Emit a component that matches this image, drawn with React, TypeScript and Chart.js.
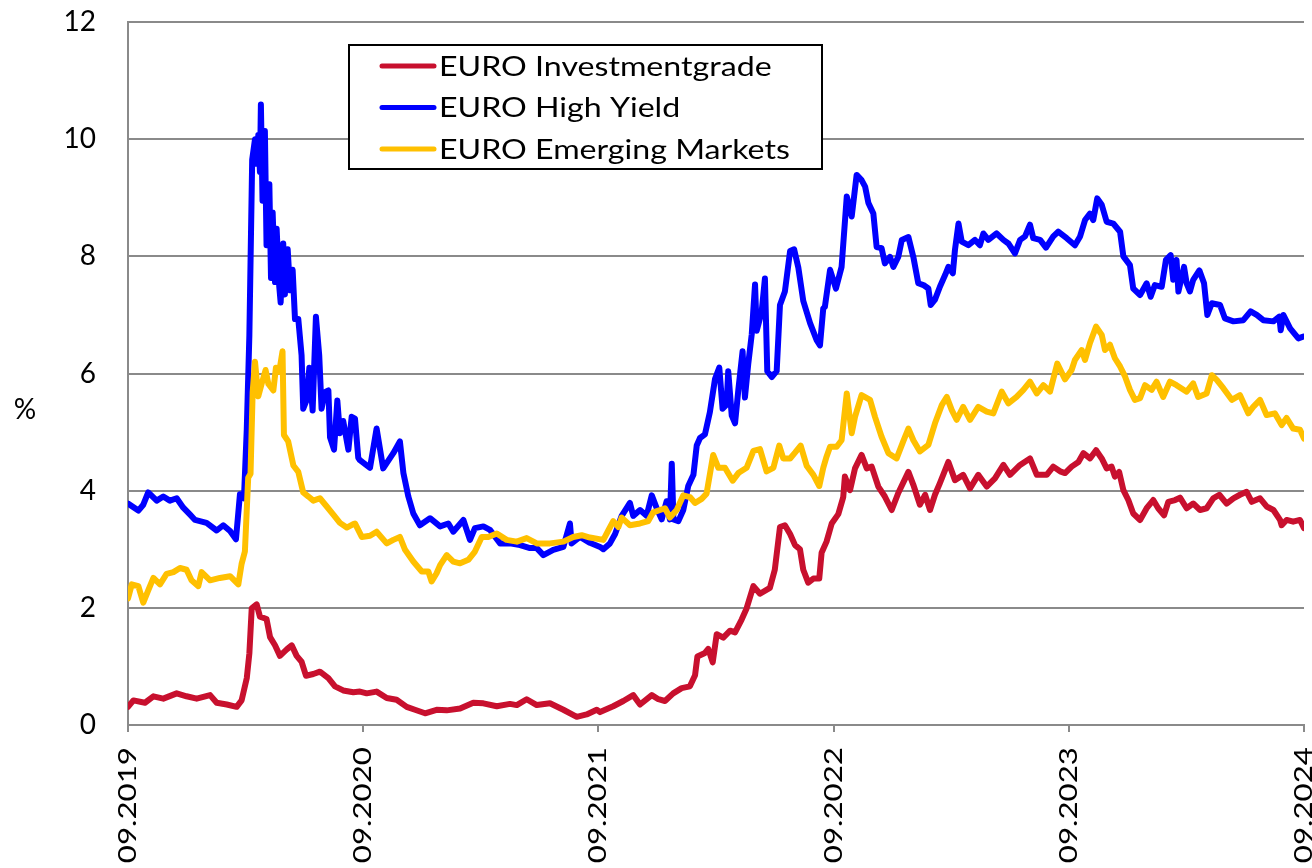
import React, { useEffect, useRef } from "react";
import { Chart, registerables } from "chart.js";

Chart.register(...registerables);

// x = years since 09.2019
const xTickLabels = ["09.2019", "09.2020", "09.2021", "09.2022", "09.2023", "09.2024"];
const yTickValues = [0, 2, 4, 6, 8, 10, 12];

const seriesNames = ["EURO Investmentgrade", "EURO High Yield", "EURO Emerging Markets"];
const seriesColors = ["#C8102E", "#0000FF", "#FFC000"];

const igT = [0, 0.023, 0.072, 0.108, 0.15, 0.207, 0.249, 0.292, 0.349, 0.377, 0.42, 0.462, 0.483, 0.505, 0.516, 0.526, 0.547, 0.561, 0.589, 0.604, 0.625, 0.646, 0.675, 0.696, 0.717, 0.738, 0.757, 0.788, 0.816, 0.852, 0.88, 0.915, 0.958, 0.986, 1.015, 1.057, 1.1, 1.142, 1.185, 1.22, 1.263, 1.312, 1.355, 1.412, 1.468, 1.511, 1.568, 1.624, 1.653, 1.695, 1.738, 1.794, 1.851, 1.908, 1.95, 1.993, 2.007, 2.063, 2.106, 2.148, 2.177, 2.227, 2.255, 2.283, 2.318, 2.354, 2.389, 2.411, 2.421, 2.453, 2.467, 2.486, 2.503, 2.531, 2.56, 2.581, 2.609, 2.63, 2.659, 2.687, 2.729, 2.75, 2.772, 2.793, 2.815, 2.836, 2.857, 2.871, 2.892, 2.914, 2.939, 2.949, 2.97, 2.992, 3.02, 3.041, 3.048, 3.07, 3.091, 3.119, 3.141, 3.162, 3.19, 3.218, 3.247, 3.275, 3.318, 3.339, 3.367, 3.389, 3.41, 3.431, 3.452, 3.488, 3.516, 3.551, 3.58, 3.615, 3.651, 3.686, 3.722, 3.75, 3.793, 3.835, 3.864, 3.906, 3.934, 3.963, 3.984, 4.012, 4.041, 4.062, 4.09, 4.116, 4.14, 4.161, 4.182, 4.196, 4.214, 4.232, 4.253, 4.274, 4.303, 4.331, 4.359, 4.38, 4.405, 4.423, 4.452, 4.473, 4.501, 4.529, 4.558, 4.586, 4.614, 4.64, 4.671, 4.7, 4.728, 4.756, 4.778, 4.813, 4.841, 4.87, 4.898, 4.905, 4.926, 4.954, 4.983, 5.0];
const igV = [0.31, 0.42, 0.38, 0.49, 0.45, 0.54, 0.49, 0.45, 0.51, 0.38, 0.35, 0.31, 0.42, 0.8, 1.22, 1.99, 2.06, 1.85, 1.81, 1.5, 1.36, 1.18, 1.29, 1.36, 1.18, 1.08, 0.84, 0.87, 0.91, 0.8, 0.66, 0.59, 0.56, 0.57, 0.54, 0.57, 0.46, 0.43, 0.31, 0.26, 0.2, 0.26, 0.25, 0.28, 0.38, 0.37, 0.32, 0.36, 0.34, 0.44, 0.34, 0.37, 0.26, 0.14, 0.18, 0.26, 0.22, 0.32, 0.41, 0.51, 0.35, 0.51, 0.44, 0.41, 0.54, 0.63, 0.66, 0.85, 1.17, 1.23, 1.3, 1.07, 1.55, 1.49, 1.61, 1.58, 1.8, 1.99, 2.37, 2.24, 2.34, 2.65, 3.38, 3.41, 3.26, 3.07, 3.0, 2.65, 2.43, 2.5, 2.5, 2.94, 3.13, 3.44, 3.6, 3.89, 4.24, 4.01, 4.38, 4.61, 4.38, 4.41, 4.07, 3.9, 3.67, 3.96, 4.32, 4.1, 3.76, 3.93, 3.67, 3.93, 4.13, 4.49, 4.18, 4.27, 4.04, 4.27, 4.07, 4.21, 4.44, 4.27, 4.44, 4.55, 4.27, 4.27, 4.41, 4.33, 4.3, 4.41, 4.49, 4.64, 4.55, 4.69, 4.55, 4.38, 4.41, 4.24, 4.32, 4.01, 3.84, 3.61, 3.5, 3.7, 3.84, 3.7, 3.58, 3.81, 3.84, 3.88, 3.7, 3.78, 3.67, 3.7, 3.87, 3.93, 3.78, 3.87, 3.93, 3.98, 3.81, 3.87, 3.73, 3.67, 3.5, 3.41, 3.5, 3.47, 3.5, 3.36];

const hyT = [0, 0.044, 0.065, 0.086, 0.122, 0.15, 0.178, 0.207, 0.235, 0.264, 0.285, 0.334, 0.377, 0.405, 0.434, 0.459, 0.476, 0.493, 0.505, 0.516, 0.528, 0.54, 0.547, 0.554, 0.561, 0.565, 0.572, 0.582, 0.589, 0.601, 0.608, 0.615, 0.625, 0.632, 0.643, 0.649, 0.66, 0.667, 0.679, 0.689, 0.7, 0.71, 0.724, 0.738, 0.745, 0.759, 0.771, 0.785, 0.799, 0.813, 0.823, 0.837, 0.852, 0.859, 0.876, 0.89, 0.901, 0.915, 0.937, 0.951, 0.965, 0.979, 0.986, 1.029, 1.057, 1.085, 1.128, 1.156, 1.171, 1.192, 1.213, 1.241, 1.284, 1.327, 1.362, 1.383, 1.426, 1.454, 1.475, 1.511, 1.539, 1.582, 1.624, 1.667, 1.709, 1.738, 1.766, 1.808, 1.851, 1.879, 1.886, 1.922, 1.964, 2.007, 2.021, 2.049, 2.071, 2.099, 2.134, 2.148, 2.177, 2.205, 2.227, 2.248, 2.269, 2.29, 2.304, 2.312, 2.319, 2.34, 2.361, 2.382, 2.404, 2.418, 2.432, 2.453, 2.474, 2.496, 2.514, 2.528, 2.545, 2.552, 2.567, 2.581, 2.595, 2.613, 2.623, 2.637, 2.652, 2.666, 2.673, 2.694, 2.708, 2.718, 2.737, 2.758, 2.772, 2.793, 2.815, 2.832, 2.85, 2.871, 2.9, 2.928, 2.942, 2.956, 2.963, 2.985, 3.01, 3.034, 3.056, 3.077, 3.098, 3.119, 3.134, 3.148, 3.169, 3.183, 3.204, 3.218, 3.24, 3.254, 3.275, 3.29, 3.318, 3.339, 3.36, 3.382, 3.403, 3.413, 3.431, 3.452, 3.474, 3.488, 3.507, 3.516, 3.531, 3.545, 3.573, 3.601, 3.622, 3.637, 3.658, 3.693, 3.722, 3.743, 3.771, 3.793, 3.814, 3.835, 3.849, 3.878, 3.903, 3.934, 3.955, 3.991, 4.026, 4.048, 4.069, 4.09, 4.104, 4.121, 4.14, 4.161, 4.189, 4.218, 4.232, 4.26, 4.274, 4.303, 4.331, 4.348, 4.366, 4.395, 4.413, 4.433, 4.444, 4.458, 4.466, 4.49, 4.501, 4.515, 4.529, 4.555, 4.575, 4.589, 4.608, 4.643, 4.664, 4.7, 4.742, 4.773, 4.799, 4.827, 4.87, 4.895, 4.901, 4.912, 4.941, 4.976, 4.997];
const hyV = [3.78, 3.66, 3.76, 3.97, 3.83, 3.9, 3.83, 3.87, 3.71, 3.59, 3.5, 3.45, 3.32, 3.41, 3.31, 3.17, 3.94, 3.87, 5.05, 6.65, 9.65, 10.0, 9.58, 10.07, 9.44, 10.59, 8.95, 10.14, 8.19, 9.23, 7.63, 8.75, 7.56, 8.47, 7.49, 7.21, 8.22, 7.35, 8.12, 7.42, 7.77, 6.93, 6.93, 6.31, 5.4, 5.54, 6.1, 5.37, 6.97, 6.31, 5.4, 5.68, 5.71, 4.91, 4.7, 5.54, 4.98, 5.19, 4.7, 5.26, 5.23, 4.56, 4.52, 4.39, 5.06, 4.38, 4.64, 4.84, 4.3, 3.9, 3.61, 3.41, 3.53, 3.39, 3.44, 3.3, 3.5, 3.16, 3.36, 3.39, 3.33, 3.1, 3.1, 3.07, 3.02, 3.02, 2.9, 2.99, 3.04, 3.44, 3.1, 3.21, 3.11, 3.04, 3.0, 3.1, 3.26, 3.57, 3.79, 3.57, 3.67, 3.57, 3.92, 3.7, 3.51, 3.82, 3.51, 4.46, 3.51, 3.48, 3.67, 4.08, 4.27, 4.77, 4.9, 4.96, 5.34, 5.91, 6.1, 5.4, 5.47, 6.04, 5.28, 5.15, 5.72, 6.38, 5.59, 6.16, 6.67, 7.52, 6.73, 7.05, 7.62, 6.04, 5.94, 6.04, 7.17, 7.4, 8.09, 8.12, 7.81, 7.24, 6.86, 6.57, 6.48, 7.11, 7.14, 7.77, 7.45, 7.82, 9.02, 8.68, 9.39, 9.3, 9.19, 8.91, 8.73, 8.16, 8.14, 7.88, 7.99, 7.82, 7.99, 8.28, 8.33, 7.99, 7.54, 7.51, 7.45, 7.17, 7.26, 7.48, 7.68, 7.82, 7.71, 8.11, 8.56, 8.25, 8.19, 8.28, 8.19, 8.39, 8.28, 8.39, 8.28, 8.22, 8.05, 8.28, 8.34, 8.54, 8.31, 8.28, 8.15, 8.34, 8.42, 8.31, 8.19, 8.34, 8.62, 8.73, 8.62, 8.99, 8.88, 8.59, 8.56, 8.42, 8.0, 7.85, 7.45, 7.34, 7.54, 7.31, 7.51, 7.48, 7.94, 8.02, 7.6, 7.94, 7.4, 7.82, 7.54, 7.4, 7.6, 7.76, 7.54, 7.0, 7.2, 7.17, 6.94, 6.89, 6.91, 7.06, 7.0, 6.91, 6.89, 6.97, 6.74, 7.0, 6.77, 6.6, 6.63];

const emT = [0, 0.016, 0.044, 0.065, 0.086, 0.108, 0.136, 0.164, 0.193, 0.221, 0.249, 0.27, 0.299, 0.313, 0.349, 0.391, 0.434, 0.469, 0.483, 0.497, 0.511, 0.521, 0.53, 0.54, 0.554, 0.568, 0.585, 0.597, 0.618, 0.629, 0.643, 0.657, 0.663, 0.681, 0.703, 0.724, 0.745, 0.767, 0.788, 0.816, 0.845, 0.873, 0.901, 0.93, 0.958, 0.965, 0.994, 1.029, 1.057, 1.1, 1.128, 1.156, 1.178, 1.213, 1.249, 1.277, 1.291, 1.312, 1.327, 1.355, 1.383, 1.412, 1.447, 1.475, 1.504, 1.532, 1.568, 1.61, 1.653, 1.695, 1.738, 1.794, 1.851, 1.893, 1.929, 1.964, 2.021, 2.042, 2.063, 2.085, 2.099, 2.134, 2.177, 2.212, 2.233, 2.262, 2.283, 2.304, 2.333, 2.361, 2.389, 2.411, 2.439, 2.46, 2.488, 2.51, 2.538, 2.571, 2.595, 2.63, 2.659, 2.687, 2.715, 2.744, 2.769, 2.786, 2.815, 2.836, 2.86, 2.886, 2.914, 2.939, 2.956, 2.97, 2.985, 3.013, 3.034, 3.056, 3.077, 3.091, 3.119, 3.155, 3.176, 3.204, 3.233, 3.268, 3.296, 3.318, 3.339, 3.367, 3.403, 3.431, 3.46, 3.481, 3.502, 3.523, 3.551, 3.58, 3.615, 3.651, 3.679, 3.715, 3.743, 3.778, 3.807, 3.835, 3.864, 3.892, 3.92, 3.951, 3.984, 4.012, 4.026, 4.055, 4.069, 4.09, 4.116, 4.14, 4.154, 4.175, 4.196, 4.218, 4.239, 4.26, 4.281, 4.303, 4.324, 4.352, 4.373, 4.401, 4.43, 4.458, 4.501, 4.529, 4.55, 4.586, 4.608, 4.629, 4.657, 4.693, 4.728, 4.763, 4.784, 4.813, 4.841, 4.876, 4.905, 4.926, 4.954, 4.983, 5.0];
const emV = [2.16, 2.4, 2.37, 2.09, 2.3, 2.51, 2.4, 2.58, 2.61, 2.68, 2.65, 2.47, 2.37, 2.61, 2.47, 2.51, 2.54, 2.4, 2.75, 2.96, 4.22, 4.29, 5.68, 6.2, 5.61, 5.82, 6.06, 5.82, 5.71, 6.1, 6.03, 6.38, 4.95, 4.84, 4.43, 4.32, 3.97, 3.9, 3.83, 3.87, 3.73, 3.59, 3.45, 3.37, 3.43, 3.44, 3.21, 3.23, 3.3, 3.1, 3.16, 3.21, 2.99, 2.79, 2.62, 2.62, 2.45, 2.59, 2.73, 2.9, 2.79, 2.76, 2.82, 2.96, 3.21, 3.21, 3.27, 3.16, 3.13, 3.19, 3.1, 3.1, 3.13, 3.21, 3.24, 3.2, 3.16, 3.32, 3.48, 3.38, 3.54, 3.41, 3.44, 3.48, 3.63, 3.67, 3.7, 3.54, 3.67, 3.92, 3.89, 3.79, 3.86, 3.95, 4.61, 4.39, 4.39, 4.17, 4.3, 4.39, 4.68, 4.71, 4.33, 4.39, 4.77, 4.55, 4.55, 4.65, 4.77, 4.42, 4.27, 4.08, 4.39, 4.58, 4.75, 4.75, 4.86, 5.66, 4.98, 5.26, 5.63, 5.55, 5.26, 4.92, 4.64, 4.55, 4.84, 5.06, 4.86, 4.67, 4.78, 5.15, 5.46, 5.6, 5.38, 5.21, 5.43, 5.21, 5.43, 5.35, 5.32, 5.69, 5.49, 5.6, 5.72, 5.86, 5.66, 5.8, 5.69, 6.17, 5.9, 6.06, 6.23, 6.4, 6.23, 6.52, 6.8, 6.66, 6.4, 6.49, 6.26, 6.12, 5.95, 5.72, 5.55, 5.58, 5.8, 5.72, 5.86, 5.6, 5.86, 5.8, 5.69, 5.83, 5.6, 5.66, 5.97, 5.89, 5.75, 5.55, 5.63, 5.32, 5.43, 5.55, 5.29, 5.32, 5.12, 5.24, 5.06, 5.04, 4.89];

const FONT = "Lato, 'Noto Sans', sans-serif";

function toPoints(ts: number[], vs: number[]) {
  return ts.map((t, i) => ({ x: t, y: vs[i] }));
}

const overlayPlugin = {
  id: "overlay",
  afterDraw(chart: any) {
    const { ctx, chartArea, scales } = chart;
    const xs = scales.x;
    ctx.save();
    // rotated x tick labels (stretched along text direction)
    ctx.fillStyle = "#000";
    ctx.font = `25px ${FONT}`;
    ctx.textAlign = "right";
    ctx.textBaseline = "middle";
    xTickLabels.forEach((lab, i) => {
      const px = xs.getPixelForValue(i);
      ctx.save();
      ctx.translate(px, chartArea.bottom + 22);
      ctx.rotate(-Math.PI / 2);
      ctx.scale(1.25, 1);
      ctx.fillText(lab, 0, 0);
      ctx.restore();
    });
    // y axis unit label
    ctx.font = `28px ${FONT}`;
    ctx.textAlign = "center";
    ctx.fillText("%", 25, 410);
    // legend box
    const bx = 349, by = 45, bw = 473, bh = 124;
    ctx.fillStyle = "#fff";
    ctx.fillRect(bx, by, bw, bh);
    ctx.strokeStyle = "#000";
    ctx.lineWidth = 2;
    ctx.strokeRect(bx, by, bw, bh);
    const rows = [66, 107.5, 149];
    ctx.font = `27px ${FONT}`;
    ctx.textAlign = "left";
    ctx.textBaseline = "middle";
    seriesNames.forEach((name, i) => {
      ctx.strokeStyle = seriesColors[i];
      ctx.lineWidth = 5;
      ctx.lineCap = "round";
      ctx.beginPath();
      ctx.moveTo(382, rows[i]);
      ctx.lineTo(434, rows[i]);
      ctx.stroke();
      ctx.fillStyle = "#000";
      ctx.save();
      ctx.translate(439, rows[i] + 1);
      ctx.scale(1.19, 1);
      ctx.fillText(name, 0, 0);
      ctx.restore();
    });
    ctx.restore();
  },
};

export default function App() {
  const ref = useRef<HTMLCanvasElement | null>(null);
  useEffect(() => {
    if (!ref.current) return;
    const series = [toPoints(igT, igV), toPoints(hyT, hyV), toPoints(emT, emV)];
    const chart = new Chart(ref.current, {
      type: "line",
      data: {
        datasets: series.map((d, i) => ({
          label: seriesNames[i],
          data: d,
          borderColor: seriesColors[i],
          backgroundColor: seriesColors[i],
          borderWidth: 6,
          pointRadius: 0,
          tension: 0,
          borderJoinStyle: "round" as const,
          borderCapStyle: "round" as const,
          order: 3 - i,
        })),
      },
      options: {
        responsive: false,
        animation: false,
        events: [],
        layout: { padding: { top: 22, right: 8, left: 0, bottom: 0 } },
        plugins: { legend: { display: false }, tooltip: { enabled: false } },
        scales: {
          x: {
            type: "linear",
            min: 0,
            max: xTickLabels.length - 1,
            ticks: { stepSize: 1, display: false },
            grid: { drawOnChartArea: false, drawTicks: true, tickLength: 7, color: "#8a8a8a", lineWidth: 2 },
            border: { color: "#8a8a8a", width: 2 },
            afterFit: (s: any) => { s.height = 143; s.paddingLeft = 0; s.paddingRight = 0; },
          },
          y: {
            min: yTickValues[0],
            max: yTickValues[yTickValues.length - 1],
            ticks: {
              stepSize: 2,
              color: "#000",
              font: { family: FONT, size: 28 },
              padding: 32,
              callback: (v: any) => String(v),
            },
            grid: { color: "#8a8a8a", lineWidth: 2, drawTicks: false },
            border: { color: "#8a8a8a", width: 2 },
            afterFit: (s: any) => { s.width = 128; s.paddingTop = 0; s.paddingBottom = 0; },
          },
        },
      },
      plugins: [overlayPlugin],
    });
    return () => chart.destroy();
  }, []);
  return (
    <div style={{ position: "fixed", left: 0, top: 0, width: 1312, height: 868, overflow: "hidden", background: "#fff" }}>
      <canvas ref={ref} width={1312} height={868} style={{ display: "block", width: 1312, height: 868 }} />
    </div>
  );
}
